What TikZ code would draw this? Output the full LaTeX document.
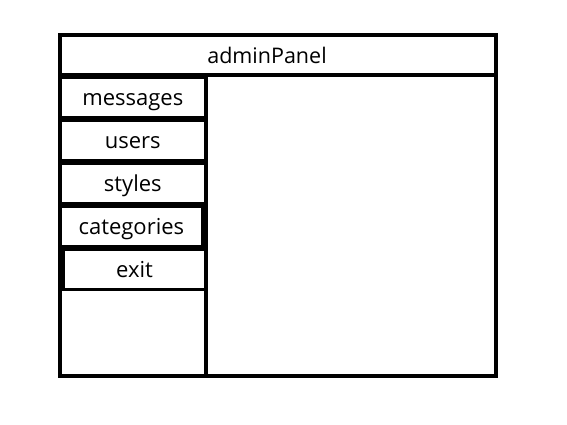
\documentclass[tikz,border=0pt]{standalone}
\usepackage{fontspec}
\setmainfont{Open Sans}
\usetikzlibrary{positioning}

\tikzset{
  panelline/.style={line width=4pt},
  menubtn/.style={draw, line width=3pt, minimum width=145pt, minimum height=40pt,
    inner sep=0pt, text height=18.5pt, text depth=3pt, font=\fontsize{22}{26}\selectfont},
}

\begin{document}
\begin{tikzpicture}[x=1pt,y=-1pt,font=\fontsize{21.5}{25}\selectfont, node distance=0pt]
  \useasboundingbox (0,0) rectangle (567,425);
  \draw[panelline] (60.3,35.3) rectangle (496,376);
  \draw[panelline] (60.3,75) -- (496,75);
  \draw[panelline] (205.5,75) -- (205.5,376);
  \node (title) at (267,55.5) {adminPanel};
  % menu on the left
  \node[menubtn] (messages) at (132.8,97.5) {messages};
  \node[menubtn, below=of messages] (users) {users};
  \node[menubtn, below=of users] (styles) {styles};
  \node[menubtn, minimum width=142.2pt, below=of styles.south west, anchor=north west] (categories) {categories};
  \node[menubtn, minimum width=141.5pt, below=of categories.south -| styles.south east, anchor=north east] (exit) {exit};
\end{tikzpicture}
\end{document}
